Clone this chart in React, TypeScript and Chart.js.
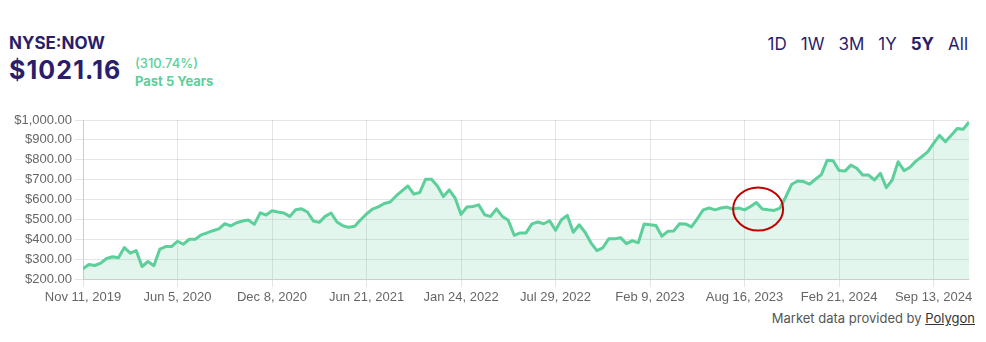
import React, { useEffect, useRef } from "react";
import { Chart, registerables } from "chart.js";

Chart.register(...registerables);

const TICKER = "NYSE:NOW";
const PRICE = "$1021.16";
const CHANGE = "(310.74%)";
const PERIOD = "Past 5 Years";
const RANGES = ["1D", "1W", "3M", "1Y", "5Y", "All"];
const ACTIVE_RANGE = "5Y";
const FOOTER_TEXT = "Market data provided by ";
const FOOTER_LINK = "Polygon";

const TICK_LABELS = [
  "Nov 11, 2019",
  "Jun 5, 2020",
  "Dec 8, 2020",
  "Jun 21, 2021",
  "Jan 24, 2022",
  "Jul 29, 2022",
  "Feb 9, 2023",
  "Aug 16, 2023",
  "Feb 21, 2024",
  "Sep 13, 2024",
];
const POINTS_PER_TICK = 16;

const PRICES = [
  252, 273, 268, 280, 303, 312, 307, 358, 330, 343, 263, 288, 267, 350, 363, 363,
  390, 375, 400, 400, 422, 432, 443, 452, 478, 467, 483, 492, 497, 475, 533, 522,
  543, 537, 532, 515, 548, 553, 537, 492, 485, 515, 532, 487, 468, 460, 465, 498,
  527, 552, 563, 580, 587, 618, 643, 668, 627, 635, 702, 702, 668, 615, 648, 607,
  525, 562, 565, 573, 523, 515, 553, 515, 495, 420, 432, 432, 477, 487, 478, 493,
  445, 498, 520, 435, 473, 435, 382, 343, 357, 402, 402, 408, 378, 393, 382, 477,
  473, 469, 415, 440, 442, 478, 477, 462, 503, 548, 557, 548, 557, 562, 552, 557,
  548, 565, 585, 552, 548, 545, 557, 615, 677, 693, 690, 677, 702, 725, 798, 795,
  746, 743, 773, 757, 723, 723, 698, 732, 660, 698, 790, 745, 762, 793, 815, 840,
  882, 923, 890, 923, 957, 953, 990,
];

const Y_MIN = 200;
const Y_MAX = 1000;
const Y_STEP = 100;

// highlighted region (red ellipse), in data units
const HIGHLIGHT_INDEX = 114.3;
const HIGHLIGHT_PRICE = 552;

const NAVY = "#2a1d6b";
const GREEN = "#5ccf9a";

const highlightPlugin = {
  id: "highlightEllipse",
  afterDatasetsDraw(chart: any) {
    const { ctx, scales } = chart;
    const cx = scales.x.getPixelForValue(HIGHLIGHT_INDEX);
    const cy = scales.y.getPixelForValue(HIGHLIGHT_PRICE);
    ctx.save();
    ctx.beginPath();
    ctx.ellipse(cx, cy, 25, 21.5, 0, 0, Math.PI * 2);
    ctx.strokeStyle = "#c00000";
    ctx.lineWidth = 2;
    ctx.stroke();
    ctx.restore();
  },
};

function PriceChart() {
  const ref = useRef<HTMLCanvasElement | null>(null);
  useEffect(() => {
    if (!ref.current) return;
    const tickFont = { family: "'Liberation Sans', Arial, sans-serif", size: 13 };
    const chart = new Chart(ref.current, {
      type: "line",
      data: {
        datasets: [
          {
            data: PRICES.map((v, i) => ({ x: i, y: v })),
            borderColor: GREEN,
            backgroundColor: "rgba(92, 207, 154, 0.18)",
            borderWidth: 3,
            pointRadius: 0,
            pointHoverRadius: 0,
            fill: "start",
            tension: 0,
            borderJoinStyle: "round",
          },
        ],
      },
      options: {
        responsive: false,
        animation: false,
        layout: { padding: { top: 20, right: 17, bottom: 0, left: 0 } },
        plugins: { legend: { display: false }, tooltip: { enabled: false } },
        scales: {
          x: {
            type: "linear",
            min: 0,
            max: PRICES.length - 1,
            afterFit(scale: any) {
              scale.height = 26;
            },
            ticks: {
              stepSize: POINTS_PER_TICK,
              includeBounds: false,
              autoSkip: false,
              maxRotation: 0,
              color: "#666",
              font: tickFont,
              callback: (v: any) => {
                const k = Number(v) / POINTS_PER_TICK;
                return Number.isInteger(k) && TICK_LABELS[k] !== undefined ? TICK_LABELS[k] : null;
              },
            },
            grid: { color: "rgba(0,0,0,0.1)" },
          },
          y: {
            min: Y_MIN,
            max: Y_MAX,
            afterFit(scale: any) {
              scale.width = 83;
            },
            ticks: {
              stepSize: Y_STEP,
              color: "#666",
              font: tickFont,
              callback: (v: any) =>
                "$" + Number(v).toLocaleString("en-US", { minimumFractionDigits: 2, maximumFractionDigits: 2 }),
            },
            grid: { color: "rgba(0,0,0,0.1)" },
          },
        },
      },
      plugins: [highlightPlugin],
    } as any);
    return () => chart.destroy();
  }, []);
  return (
    <canvas
      ref={ref}
      width={986}
      height={205}
      style={{ position: "absolute", left: 0, top: 100, width: 986, height: 205 }}
    />
  );
}

export default function App() {
  const inter = "Inter, 'Noto Sans', sans-serif";
  return (
    <div
      style={{
        position: "absolute",
        left: 0,
        top: 0,
        width: 986,
        height: 342,
        background: "#fff",
        overflow: "hidden",
        fontFamily: inter,
      }}
    >
      <div
        style={{
          position: "absolute",
          left: 9,
          top: 34.5,
          fontSize: 17,
          lineHeight: "17px",
          fontWeight: 700,
          color: NAVY,
          whiteSpace: "nowrap",
        }}
      >
        {TICKER}
      </div>
      <div
        style={{
          position: "absolute",
          left: 9,
          top: 58,
          fontSize: 25,
          lineHeight: "25px",
          fontWeight: 700,
          letterSpacing: 1.1,
          color: NAVY,
          whiteSpace: "nowrap",
        }}
      >
        {PRICE}
      </div>
      <div
        style={{
          position: "absolute",
          left: 135,
          top: 57,
          fontSize: 13,
          lineHeight: "13px",
          fontWeight: 500,
          color: GREEN,
          whiteSpace: "nowrap",
        }}
      >
        {CHANGE}
      </div>
      <div
        style={{
          position: "absolute",
          left: 135,
          top: 75,
          fontSize: 13,
          lineHeight: "13px",
          fontWeight: 700,
          color: GREEN,
          whiteSpace: "nowrap",
        }}
      >
        {PERIOD}
      </div>
      <div
        style={{
          position: "absolute",
          right: 18,
          top: 36,
          display: "flex",
          gap: 14,
          fontSize: 17,
          lineHeight: "17px",
          color: NAVY,
          whiteSpace: "nowrap",
        }}
      >
        {RANGES.map((r) => (
          <span key={r} style={{ fontWeight: r === ACTIVE_RANGE ? 700 : 400 }}>
            {r}
          </span>
        ))}
      </div>
      <PriceChart />
      <div
        style={{
          position: "absolute",
          right: 11,
          top: 312,
          fontSize: 13,
          lineHeight: "13px",
          color: "#555",
          whiteSpace: "nowrap",
        }}
      >
        {FOOTER_TEXT}
        <span style={{ textDecoration: "underline", color: "#333" }}>{FOOTER_LINK}</span>
      </div>
    </div>
  );
}
